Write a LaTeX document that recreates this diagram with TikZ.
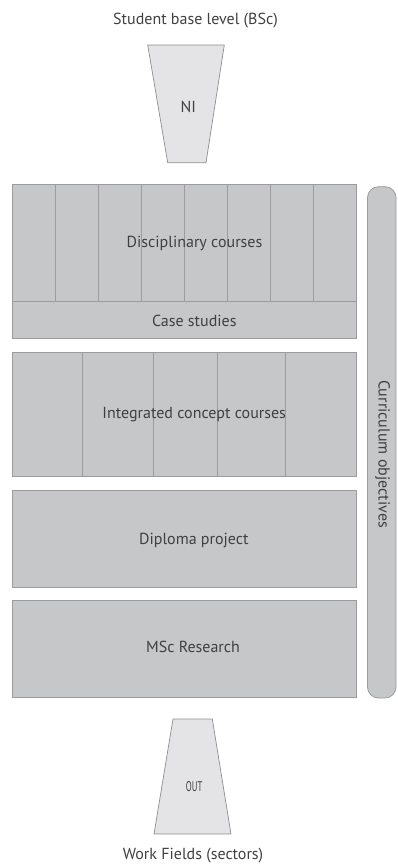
\documentclass[tikz,border=0pt]{standalone}
\usepackage{fontspec}
\setmainfont{PT Sans}
\usepackage{graphicx}
\definecolor{blockfill}{HTML}{C6C7C9}
\definecolor{edge}{HTML}{9C9C9E}
\definecolor{funnelfill}{HTML}{E4E4E6}
\definecolor{funneledge}{HTML}{8E8E90}
\definecolor{ink}{HTML}{404042}
\begin{document}
\begin{tikzpicture}[x=1pt,y=-1pt,
  block/.style={draw=edge, fill=blockfill, line width=0.8pt},
  divider/.style={draw=edge, line width=0.8pt},
  funnel/.style={draw=funneledge, fill=funnelfill, line width=0.7pt},
  lbl/.style={text=ink, inner sep=0pt, font=\fontsize{16}{19}\selectfont},
]
\useasboundingbox (0,0) rectangle (397,865);

% intake funnel
\coordinate (nitl) at (147.7,45);
\coordinate (nitr) at (224.3,45);
\coordinate (nibr) at (206,162.7);
\coordinate (nibl) at (167.7,162.7);
\draw[funnel] (nitl) -- (nitr) -- (nibr) -- (nibl) -- cycle;
\node[lbl] (ni) at (188.3,107) {NI};
\node[lbl] (base) at (195.5,21) {Student base level (BSc)};

% disciplinary courses with case studies underneath
\draw[block] (12.7,184) rectangle (356,338);
\draw[divider] (12.7,301.7) -- (356,301.7);
\foreach \k in {1,...,7}
  \draw[divider] ({12.7+42.91*\k},184) -- ({12.7+42.91*\k},301.7);
\node[lbl] (disc) at (194.5,243) {Disciplinary courses};
\node[lbl] (case) at (194.3,321) {Case studies};

% integrated concept courses
\draw[block] (12.7,352.3) rectangle (356,476.7);
\foreach \xx in {82.7,153,217.7,285}
  \draw[divider] (\xx,352.3) -- (\xx,476.7);
\node[lbl] (integ) at (194.2,414.5) {Integrated concept courses};

% diploma project
\draw[block] (12.7,490) rectangle (356,587.3);
\node[lbl] (dipl) at (193.8,541) {Diploma project};

% research
\draw[block] (12.7,600) rectangle (356,697.3);
\node[lbl] (msc) at (193,646.5) {MSc Research};

% curriculum objectives bar
\draw[block, rounded corners=11pt] (367.5,186.7) rectangle (396,698);
\node[lbl, rotate=-90] (obj) at (382.5,454) {Curriculum objectives};

% output funnel
\coordinate (otl) at (173,719);
\coordinate (otr) at (212.3,719);
\coordinate (obr) at (231,834);
\coordinate (obl) at (154,834);
\draw[funnel] (otl) -- (otr) -- (obr) -- (obl) -- cycle;
\node[lbl] (out) at (194.2,787) {\fontsize{14}{16}\selectfont\scalebox{0.62}[1]{OUT}};
\node[lbl] (work) at (193,856) {Work Fields (sectors)};
\end{tikzpicture}
\end{document}
